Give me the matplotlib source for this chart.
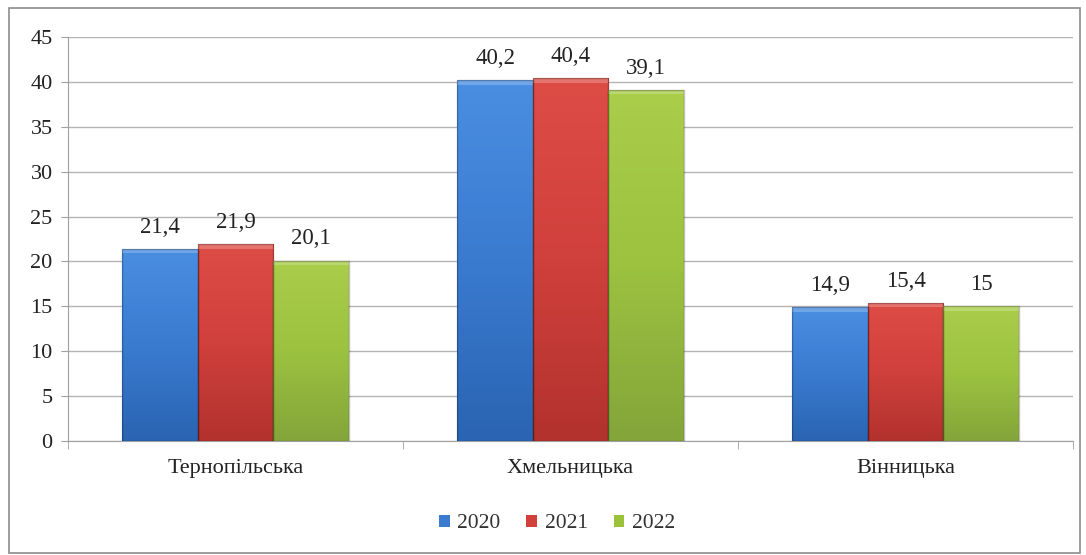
"""
Стовпчикова діаграма по областях за 2020-2022 роки.
"""
import matplotlib
matplotlib.use("Agg")
import matplotlib.pyplot as plt
import numpy as np
from matplotlib.colors import LinearSegmentedColormap
from matplotlib.patches import Rectangle

regions = ["Тернопільська", "Хмельницька", "Вінницька"]
years = ["2020", "2021", "2022"]
values_2020 = [21.4, 40.2, 14.9]
values_2021 = [21.9, 40.4, 15.4]
values_2022 = [20.1, 39.1, 15.0]
labels_2020 = ["21,4", "40,2", "14,9"]
labels_2021 = ["21,9", "40,4", "15,4"]
labels_2022 = ["20,1", "39,1", "15"]

plt.rcParams['font.family'] = ['Liberation Serif', 'DejaVu Serif']

fig = plt.figure(figsize=(10.86, 5.55), dpi=100)
ax = fig.add_axes([68 / 1086, 1 - 441 / 555, 1005 / 1086, 404 / 555])

# рамка навколо всієї діаграми
fig.patches.append(Rectangle((9 / 1086, 2 / 555), 1071 / 1086, 545 / 555,
                             transform=fig.transFigure, fill=False,
                             edgecolor='#8c8c8c', linewidth=1.2))

# колір, градієнт (низ -> верх)
series = [
    (values_2020, labels_2020, '#3a7bd0', ['#2a64b2', '#3a7bd0', '#4a8ee2']),
    (values_2021, labels_2021, '#d2403c', ['#b3322e', '#d0403c', '#de4c46']),
    (values_2022, labels_2022, '#9cc23a', ['#84a53a', '#9cc240', '#aacd4a']),
]

x = np.arange(len(regions))
bar_width = 0.225

for idx, (vals, labels, color, grad) in enumerate(series):
    pos = x + (idx - 1) * bar_width
    bars = ax.bar(pos, vals, bar_width, color=color, edgecolor='none',
                  label=years[idx], zorder=3)
    cmap = LinearSegmentedColormap.from_list('g', grad)
    for b in bars:
        bx, by, bw, bh = b.get_x(), b.get_y(), b.get_width(), b.get_height()
        img = ax.imshow(np.linspace(0, 1, 64).reshape(-1, 1), cmap=cmap,
                        origin='lower', extent=(bx, bx + bw, by, by + bh),
                        aspect='auto', zorder=3.1)
        img.set_clip_path(b)
        # світлий скіс зверху та темніші краї
        ax.bar(bx + bw / 2, 0.5, bw, bottom=by + bh - 0.5,
               color='white', alpha=0.22, edgecolor='none', zorder=3.2)
        ax.bar(bx + bw / 2, bh, bw, bottom=by, fill=False,
               edgecolor='black', alpha=0.25, linewidth=1.0, zorder=3.3)
    for b, lab in zip(bars, labels):
        ax.annotate(lab, (b.get_x() + b.get_width() / 2, b.get_height()),
                    xytext=(0, 8), textcoords='offset points',
                    ha='center', va='bottom', fontsize=16.5, color='#222222')

ax.set_xlim(-0.5, len(regions) - 0.5)
ax.set_ylim(0, 45)
ax.set_yticks(np.arange(0, 46, 5))
ax.set_xticks(x)
ax.set_xticklabels(regions, fontsize=16)
ax.set_xticks(np.arange(-0.5, len(regions), 1), minor=True)
ax.tick_params(axis='x', which='major', length=0, pad=13)
ax.tick_params(axis='x', which='minor', length=6, color='#a0a0a0')
ax.tick_params(axis='y', length=5, color='#a0a0a0', labelsize=16, pad=6,
               labelcolor='#222222')
ax.tick_params(axis='x', labelcolor='#222222')
ax.yaxis.grid(True, color='#b4b4b4', linewidth=1.0, zorder=0)
ax.set_axisbelow(True)
for side in ['top', 'right']:
    ax.spines[side].set_visible(False)
ax.spines['left'].set_color('#a0a0a0')
ax.spines['bottom'].set_color('#a0a0a0')

fig.legend(*ax.get_legend_handles_labels(), loc='center',
           bbox_to_anchor=(557 / 1086, 1 - 524 / 555), ncol=3, frameon=False,
           fontsize=15.5, handlelength=0.5, handleheight=0.5, handletextpad=0.35,
           columnspacing=1.2, labelcolor='#333333')

fig.savefig('out.png', dpi=100)
plt.close(fig)
